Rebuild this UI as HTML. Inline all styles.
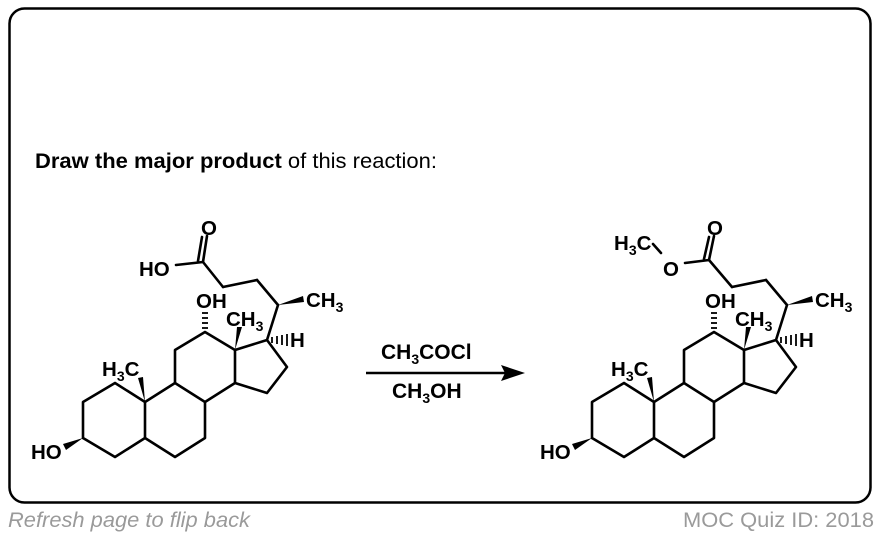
<!DOCTYPE html>
<html><head><meta charset="utf-8"><style>
html,body{margin:0;padding:0;background:#fff;}
svg{display:block;}
text{font-family:"Liberation Sans",Arial,sans-serif;}
</style></head><body>
<svg width="878" height="536" viewBox="0 0 878 536" xmlns="http://www.w3.org/2000/svg">
<rect x="9.5" y="8.5" width="861" height="494" rx="15" fill="#fff" stroke="#000" stroke-width="2.5"/>
<text x="35" y="168" font-size="21" textLength="402" lengthAdjust="spacingAndGlyphs"><tspan font-weight="bold">Draw the major product</tspan> of this reaction:</text>
<text x="8" y="527" font-size="21" font-style="italic" fill="#9a9a9a" textLength="242" lengthAdjust="spacingAndGlyphs">Refresh page to flip back</text>
<text x="683" y="527" font-size="21" fill="#9a9a9a" textLength="191" lengthAdjust="spacingAndGlyphs">MOC Quiz ID: 2018</text>

<defs>
<g id="core" stroke="#000" stroke-width="2.6" fill="none" stroke-linejoin="round" stroke-linecap="round">
  <polyline points="83,438 83,402 115,383 145,402 145,438 115,457 83,438"/>
  <polyline points="145,402 175,383 205,402 205,438 175,457 145,438"/>
  <polyline points="175,383 175,350 205,332 235,350 235,383 205,402"/>
  <polyline points="235,350 267,340 287,367 267,393 235,383"/>
  <line x1="267" y1="340" x2="278" y2="305"/>
  <line x1="278" y1="305" x2="257" y2="280"/>
  <line x1="257" y1="280" x2="223" y2="287"/>
</g>
</defs>

<g>
<use href="#core"/>
<g stroke="#000" stroke-width="2.6" fill="none" stroke-linecap="round">
  <line x1="223" y1="287" x2="203" y2="262"/>
  <line x1="203" y1="262" x2="176" y2="265"/>
  <line x1="203" y1="262" x2="207" y2="236"/>
  <line x1="198" y1="261" x2="202" y2="237"/>
</g>
<text x="201" y="235" font-size="20.5" font-weight="bold">O</text>
<text x="139" y="276" font-size="20.5" font-weight="bold">HO</text>
<polygon points="278,305 303,296 304,302" fill="#000"/>
<text x="306" y="307" font-size="20.5" font-weight="bold">CH<tspan font-size="14" dy="5">3</tspan></text>
<g stroke="#000" stroke-width="1.8"><line x1="202" y1="328" x2="208" y2="328"/><line x1="202" y1="323" x2="208" y2="323"/><line x1="202" y1="318" x2="208" y2="318"/><line x1="202" y1="313" x2="208" y2="313"/></g>
<text x="196" y="308" font-size="20.5" font-weight="bold">OH</text>
<polygon points="235,350 237,327 242,327" fill="#000"/>
<text x="226" y="326" font-size="20.5" font-weight="bold">CH<tspan font-size="14" dy="5">3</tspan></text>
<g stroke="#000" stroke-width="1.8"><line x1="272" y1="337" x2="272" y2="343"/><line x1="277" y1="336" x2="277" y2="344"/><line x1="282" y1="335" x2="282" y2="345"/><line x1="287" y1="334" x2="287" y2="346"/></g>
<text x="290" y="347" font-size="20.5" font-weight="bold">H</text>
<polygon points="145,402 138,378 143,377" fill="#000"/>
<text x="102" y="376" font-size="20.5" font-weight="bold">H<tspan font-size="14" dy="5">3</tspan><tspan dy="-5">C</tspan></text>
<polygon points="83,438 63,444 66,450" fill="#000"/>
<text x="31" y="459" font-size="20.5" font-weight="bold">HO</text>
</g>

<line x1="366" y1="373" x2="505" y2="373" stroke="#000" stroke-width="2.6"/>
<polygon points="525,373 501,365 505,373 501,381" fill="#000"/>
<text x="381" y="359" font-size="21" font-weight="bold">CH<tspan font-size="14" dy="5">3</tspan><tspan dy="-5">COCl</tspan></text>
<text x="392" y="398" font-size="21" font-weight="bold">CH<tspan font-size="14" dy="5">3</tspan><tspan dy="-5">OH</tspan></text>

<g transform="translate(509,0)">
<use href="#core"/>
<g stroke="#000" stroke-width="2.6" fill="none" stroke-linecap="round">
  <line x1="223" y1="287" x2="200" y2="260"/>
  <line x1="200" y1="260" x2="176" y2="263"/>
  <line x1="200" y1="260" x2="205" y2="236"/>
  <line x1="195" y1="259" x2="200" y2="237"/>
  <line x1="152" y1="253" x2="144" y2="244"/>
</g>
<text x="198" y="235" font-size="20.5" font-weight="bold">O</text>
<text x="154" y="276" font-size="20.5" font-weight="bold">O</text>
<text x="105" y="250" font-size="20.5" font-weight="bold">H<tspan font-size="14" dy="5">3</tspan><tspan dy="-5">C</tspan></text>
<polygon points="278,305 303,296 304,302" fill="#000"/>
<text x="306" y="307" font-size="20.5" font-weight="bold">CH<tspan font-size="14" dy="5">3</tspan></text>
<g stroke="#000" stroke-width="1.8"><line x1="202" y1="328" x2="208" y2="328"/><line x1="202" y1="323" x2="208" y2="323"/><line x1="202" y1="318" x2="208" y2="318"/><line x1="202" y1="313" x2="208" y2="313"/></g>
<text x="196" y="308" font-size="20.5" font-weight="bold">OH</text>
<polygon points="235,350 237,327 242,327" fill="#000"/>
<text x="226" y="326" font-size="20.5" font-weight="bold">CH<tspan font-size="14" dy="5">3</tspan></text>
<g stroke="#000" stroke-width="1.8"><line x1="272" y1="337" x2="272" y2="343"/><line x1="277" y1="336" x2="277" y2="344"/><line x1="282" y1="335" x2="282" y2="345"/><line x1="287" y1="334" x2="287" y2="346"/></g>
<text x="290" y="347" font-size="20.5" font-weight="bold">H</text>
<polygon points="145,402 138,378 143,377" fill="#000"/>
<text x="102" y="376" font-size="20.5" font-weight="bold">H<tspan font-size="14" dy="5">3</tspan><tspan dy="-5">C</tspan></text>
<polygon points="83,438 63,444 66,450" fill="#000"/>
<text x="31" y="459" font-size="20.5" font-weight="bold">HO</text>
</g>
</svg>
</body></html>
